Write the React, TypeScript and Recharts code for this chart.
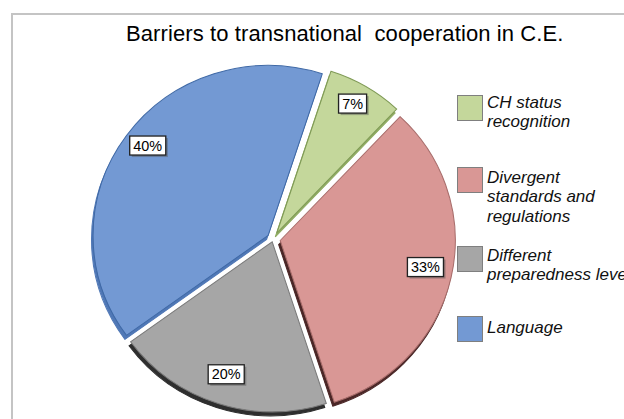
import { PieChart, Pie, Cell } from "recharts";

const categories = [
  "CH status recognition",
  "Divergent standards and regulations",
  "Different preparedness levels",
  "Language",
];
const legendLines = [
  ["CH status", "recognition"],
  ["Divergent", "standards and", "regulations"],
  ["Different", "preparedness levels"],
  ["Language"],
];
const shares = [7, 33, 20, 40];

const colors = ["#c4d79b", "#d99795", "#a6a6a6", "#7399d3"];
const edgeColors = ["#7f9a55", "#a86d6b", "#7a7a7a", "#3f69a6"];
const depthColors = ["#8fab62", "#4a2626", "#2e2e2e", "#5078b6"];
const explode = [7, 7, 3, 6];
const legendTops = [95, 167, 246, 316];
const legendTextTops = [92.5, 167.5, 245.5, 317.5];

const data = categories.map((name, i) => ({ name, value: shares[i] }));

const CX = 268;
const CY = 234;
const R = 170;
const START = 72;
const END = START - 360;
const RAD = Math.PI / 180;
const total = shares.reduce((a, b) => a + b, 0);

function midAngle(i: number) {
  const before = shares.slice(0, i).reduce((a, b) => a + b, 0);
  return START - (360 * (before + shares[i] / 2)) / total;
}

function offset(i: number) {
  const m = midAngle(i) * RAD;
  return { dx: explode[i] * Math.cos(m), dy: -explode[i] * Math.sin(m) };
}

const FONT = "'Liberation Sans', Arial, sans-serif";
const LABEL_FS = 14;

function makeLabel(slice: number) {
  return (p: any) => {
    if (p.index !== slice) return <g />;
    const r = p.outerRadius * 0.85;
    const x = p.cx + r * Math.cos(-p.midAngle * RAD);
    const y = p.cy + r * Math.sin(-p.midAngle * RAD) - 5;
    const text = `${p.value}%`;
    const w = ((text.length - 1) * 0.556 + 0.889) * LABEL_FS + 7;
    const h = 19;
    return (
      <g>
        <rect x={x - w / 2 + 2} y={y - h / 2 + 2} width={w} height={h} fill="#555" opacity={0.45} />
        <rect x={x - w / 2} y={y - h / 2} width={w} height={h} fill="#fff" stroke="#222" strokeWidth={1.3} />
        <text x={x} y={y + 5} textAnchor="middle" fontFamily={FONT} fontSize={LABEL_FS} fill="#000">
          {text}
        </text>
      </g>
    );
  };
}

export default function App() {
  return (
    <div
      style={{
        position: "absolute",
        left: 0,
        top: 0,
        width: 624,
        height: 419,
        overflow: "hidden",
        background: "#fff",
        fontFamily: FONT,
      }}
    >
      <div
        style={{
          position: "absolute",
          left: 11,
          top: 13,
          width: 700,
          height: 500,
          border: "2px solid #c4c4c4",
        }}
      />
      <div
        style={{
          position: "absolute",
          left: 126,
          top: 23,
          fontSize: 22,
          lineHeight: "22px",
          letterSpacing: 0.1,
          whiteSpace: "pre",
          color: "#000",
        }}
      >
        {"Barriers to transnational  cooperation in C.E."}
      </div>
      <div
        style={{
          position: "absolute",
          left: 0,
          top: 0,
          transform: "scaleX(1.03)",
          transformOrigin: `${CX}px ${CY}px`,
        }}
      >
        <PieChart width={624} height={419}>
          {shares.map((_, i) => {
            const { dx, dy } = offset(i);
            return (
              <Pie
                key={"d" + i}
                data={data}
                dataKey="value"
                cx={CX + dx - 1.5}
                cy={CY + dy + 4}
                outerRadius={R}
                startAngle={START}
                endAngle={END}
                isAnimationActive={false}
                labelLine={false}
              >
                {data.map((_, j) => (
                  <Cell
                    key={j}
                    fill={j === i ? depthColors[i] : "transparent"}
                    stroke={j === i ? depthColors[i] : "none"}
                  />
                ))}
              </Pie>
            );
          })}
          {shares.map((_, i) => {
            const { dx, dy } = offset(i);
            return (
              <Pie
                key={"t" + i}
                data={data}
                dataKey="value"
                cx={CX + dx}
                cy={CY + dy}
                outerRadius={R}
                startAngle={START}
                endAngle={END}
                isAnimationActive={false}
                labelLine={false}
                label={makeLabel(i)}
              >
                {data.map((_, j) => (
                  <Cell
                    key={j}
                    fill={j === i ? colors[i] : "transparent"}
                    stroke={j === i ? edgeColors[i] : "none"}
                    strokeWidth={1}
                  />
                ))}
              </Pie>
            );
          })}
        </PieChart>
      </div>
      {legendLines.map((lines, i) => (
        <div key={i}>
          <div
            style={{
              position: "absolute",
              left: 457,
              top: legendTops[i],
              width: 24,
              height: 24,
              background: colors[i],
              border: "1px solid #7f7f7f",
            }}
          />
          <div
            style={{
              position: "absolute",
              left: 487,
              top: legendTextTops[i],
              fontSize: 17,
              lineHeight: "19.5px",
              fontStyle: "italic",
              whiteSpace: "nowrap",
              color: "#111",
            }}
          >
            {lines.map((l, k) => (
              <div key={k}>{l}</div>
            ))}
          </div>
        </div>
      ))}
    </div>
  );
}
